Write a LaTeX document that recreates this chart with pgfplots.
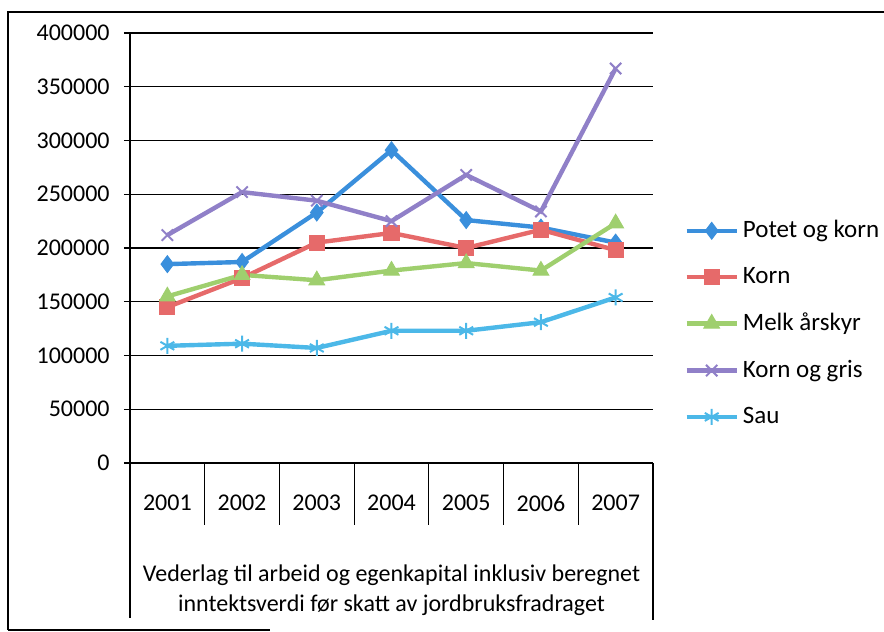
\documentclass[border=0pt]{standalone}
\usepackage{pgfplots}
\pgfplotsset{compat=1.18}
\usepackage{fontspec}
\setmainfont{Carlito}
\definecolor{cBlue}{HTML}{3A8FDC}
\definecolor{cRed}{HTML}{E66A6A}
\definecolor{cGreen}{HTML}{9FCF6E}
\definecolor{cPurple}{HTML}{9080C8}
\definecolor{cCyan}{HTML}{4CB8E8}
\begin{document}
\fontsize{12pt}{14pt}\selectfont
\begin{tikzpicture}
\useasboundingbox (0,0) rectangle (442pt,316pt);
\draw[line width=0.8pt] (4pt,1pt) -- (4pt,310pt) -- (442pt,310pt);
\draw[line width=0.8pt] (4pt,1pt) -- (135pt,1pt);
\begin{axis}[
  at={(65pt,84.5pt)}, anchor=south west,
  scale only axis, width=261.5pt, height=215pt,
  xmin=0.5, xmax=7.5, ymin=0, ymax=400000,
  scaled y ticks=false,
  xtick={1,2,3,4,5,6,7},
  xticklabels={2001,2002,2003,2004,2005,2006,2007},
  ytick={0,50000,100000,150000,200000,250000,300000,350000,400000},
  yticklabels={0,50000,100000,150000,200000,250000,300000,350000,400000},
  major x tick style={draw=none},
  axis x line*=bottom, axis y line*=left,
  axis line style={black, line width=0.6pt},
  ymajorgrids, grid style={black, line width=0.6pt},
  tick align=outside, major tick length=3pt,
  ytick style={black, line width=0.6pt},
  yticklabel style={xshift=-3pt},
  xticklabel style={yshift=-9pt},
  tick label style={font=\fontsize{12pt}{14pt}\selectfont},
  clip=false,
  legend style={at={(1.048,0.584)}, anchor=north west, draw=none, fill=none,
    font=\fontsize{12.5pt}{14pt}\selectfont, row sep=9pt,
    legend cell align=left},
  legend image code/.code={\draw[mark repeat=2,mark phase=2,#1] plot coordinates {(0pt,0pt) (12.5pt,0pt) (25pt,0pt)};},
  every axis plot/.append style={line width=2.2pt},
]
\addplot[cBlue, mark=diamond*, mark size=4.2pt, mark options={solid, fill=cBlue, line width=0.5pt}] coordinates {(1,185000)(2,187000)(3,233000)(4,291000)(5,226000)(6,219000)(7,205000)};
\addlegendentry{Potet og korn}
\addplot[cRed, mark=square*, mark size=3.8pt, mark options={solid, fill=cRed, line width=0.5pt}] coordinates {(1,145000)(2,172000)(3,205000)(4,214000)(5,200000)(6,217000)(7,198000)};
\addlegendentry{Korn}
\addplot[cGreen, mark=triangle*, mark size=4.5pt, mark options={solid, fill=cGreen, line width=0.5pt}] coordinates {(1,155000)(2,175000)(3,170000)(4,179000)(5,186000)(6,179000)(7,223000)};
\addlegendentry{Melk årskyr}
\addplot[cPurple, mark=x, mark size=4pt, mark options={solid, line width=1pt}] coordinates {(1,212000)(2,252000)(3,244000)(4,225000)(5,268000)(6,234000)(7,367000)};
\addlegendentry{Korn og gris}
\addplot[cCyan, mark=asterisk, mark size=4pt, mark options={solid, line width=1pt}] coordinates {(1,109000)(2,111000)(3,107000)(4,123000)(5,123000)(6,131000)(7,154000)};
\addlegendentry{Sau}
\draw[line width=0.6pt] (axis cs:1.5,0) -- ([yshift=-31pt]axis cs:1.5,0);
\draw[line width=0.6pt] (axis cs:2.5,0) -- ([yshift=-31pt]axis cs:2.5,0);
\draw[line width=0.6pt] (axis cs:3.5,0) -- ([yshift=-31pt]axis cs:3.5,0);
\draw[line width=0.6pt] (axis cs:4.5,0) -- ([yshift=-31pt]axis cs:4.5,0);
\draw[line width=0.6pt] (axis cs:5.5,0) -- ([yshift=-31pt]axis cs:5.5,0);
\draw[line width=0.6pt] (axis cs:6.5,0) -- ([yshift=-31pt]axis cs:6.5,0);
\draw[line width=0.6pt] (axis cs:0.5,0) -- ([yshift=-77.5pt]axis cs:0.5,0);
\draw[line width=0.6pt] (axis cs:7.5,0) -- ([yshift=-78.5pt]axis cs:7.5,0);
\node[align=center, font=\fontsize{12pt}{15pt}\selectfont] at ([yshift=-63.5pt]axis cs:4,0) {Vederlag til arbeid og egenkapital inklusiv beregnet\\inntektsverdi før skatt av jordbruksfradraget};
\end{axis}
\end{tikzpicture}
\end{document}
